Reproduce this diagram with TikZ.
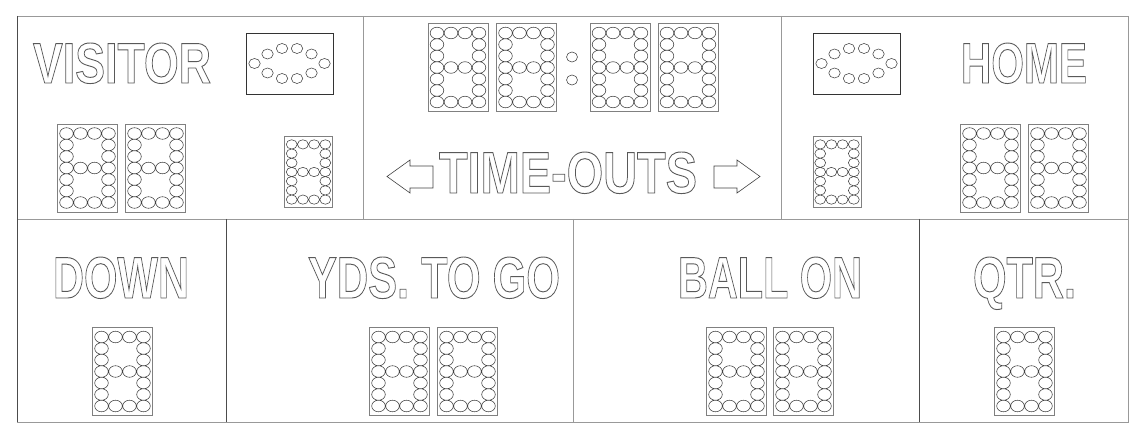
\documentclass[tikz,border=0pt]{standalone}
\usepackage{fontspec}
\usepackage{graphicx}
\usepackage{tikz}
\usepackage{xcolor}
\setmainfont{Liberation Sans}

\newcommand{\hollow}[3]{\resizebox{#1pt}{#2pt}{\fontsize{56}{56}\selectfont\bfseries\special{pdf:literal direct 1 Tr 0.9 w 0.35 G}#3\special{pdf:literal direct 0 Tr}}}
\newcommand{\ledDigit}[3]{%
\begin{scope}[shift={(#2,#3)},scale=#1]
\draw[digitbox] (-30,-44) rectangle (30,44);
\draw[led] (-21,-34.5) ellipse (6.8 and 5.8) (-7,-34.5) ellipse (6.8 and 5.8) (7,-34.5) ellipse (6.8 and 5.8) (21,-34.5) ellipse (6.8 and 5.8)
 (-21,-23) ellipse (6.8 and 5.8) (21,-23) ellipse (6.8 and 5.8) (-21,-11.5) ellipse (6.8 and 5.8) (21,-11.5) ellipse (6.8 and 5.8)
 (-21,0) ellipse (6.8 and 5.8) (-7,0) ellipse (6.8 and 5.8) (7,0) ellipse (6.8 and 5.8) (21,0) ellipse (6.8 and 5.8)
 (-21,11.5) ellipse (6.8 and 5.8) (21,11.5) ellipse (6.8 and 5.8) (-21,23) ellipse (6.8 and 5.8) (21,23) ellipse (6.8 and 5.8)
 (-21,34.5) ellipse (6.8 and 5.8) (-7,34.5) ellipse (6.8 and 5.8) (7,34.5) ellipse (6.8 and 5.8) (21,34.5) ellipse (6.8 and 5.8);
\end{scope}}
\newcommand{\possession}[2]{%
\begin{scope}[shift={(#1,#2)}]
\draw[possbox] (-43.5,-30.5) rectangle (43.5,30.5);
\draw[led] (-35,0) ellipse (5.7 and 5) (35,0) ellipse (5.7 and 5) (-22,-9.5) ellipse (5.7 and 5) (22,-9.5) ellipse (5.7 and 5) (-22,9.5) ellipse (5.7 and 5) (22,9.5) ellipse (5.7 and 5)
 (-7.5,-15) ellipse (5.7 and 5) (7.5,-15) ellipse (5.7 and 5) (-7.5,15) ellipse (5.7 and 5) (7.5,15) ellipse (5.7 and 5);
\end{scope}}

\begin{document}
\begin{tikzpicture}[x=1pt,y=-1pt,
  frame/.style={draw=black!40,line width=0.9pt},
  darkline/.style={draw=black!70,line width=0.9pt},
  digitbox/.style={draw=black!50,line width=0.7pt},
  possbox/.style={draw=black!80,line width=0.8pt},
  led/.style={draw=black!75,line width=0.55pt},
  arrowline/.style={draw=black!75,line width=0.6pt,line join=miter},
  tag/.style={inner sep=0pt,text depth=0pt}]
\useasboundingbox (0,0) rectangle (1142,438);
\draw[frame] (17,16) rectangle (1128,422) (17,219) -- (1128,219) (363,16) -- (363,219) (781,16) -- (781,219) (573,219) -- (573,422);
\draw[darkline] (17,16) -- (17,422) (226,219) -- (226,422) (919,219) -- (919,422);

\node[tag] (visitor) at (122,63) {\hollow{178}{40}{VISITOR}};
\node[tag] (home) at (1024,63) {\hollow{126}{40}{HOME}};
\node[tag] (timeouts) at (568,172.5) {\hollow{258}{41}{TIME-OUTS}};
\node[tag] (down) at (121,277.5) {\hollow{136}{41}{DOWN}};
\node[tag] (togo) at (434,277.5) {\hollow{252}{41}{YDS. TO GO}};
\node[tag] (ballon) at (770,277.5) {\hollow{184}{41}{BALL ON}};
\node[tag] (qtr) at (1024.5,277.5) {\hollow{103}{41}{QTR.}};

\possession{289.5}{63.5}
\possession{856.5}{63.5}

\ledDigit{1}{87.5}{168} \ledDigit{1}{155.5}{168}
\ledDigit{0.8}{308.5}{172}
\ledDigit{1}{458}{67.5} \ledDigit{1}{526.5}{67.5} \ledDigit{1}{620}{67.5} \ledDigit{1}{688}{67.5}
\draw[led] (572,57) ellipse (5.5 and 5) (572,80) ellipse (5.5 and 5);
\ledDigit{0.8}{837}{172}
\ledDigit{1}{990.5}{168} \ledDigit{1}{1058.5}{168}
\ledDigit{1}{122.5}{371.5}
\ledDigit{1}{399.5}{371.5} \ledDigit{1}{467.5}{371.5}
\ledDigit{1}{736.5}{371.5} \ledDigit{1}{803.5}{371.5}
\ledDigit{1}{1024.5}{371.5}

\draw[arrowline] (387,176.5) -- (410,160) -- (410,166) -- (433,166) -- (433,188) -- (410,188) -- (410,193) -- cycle;
\draw[arrowline] (760,176.5) -- (737,160) -- (737,166) -- (714,166) -- (714,188) -- (737,188) -- (737,193) -- cycle;
\end{tikzpicture}
\end{document}
